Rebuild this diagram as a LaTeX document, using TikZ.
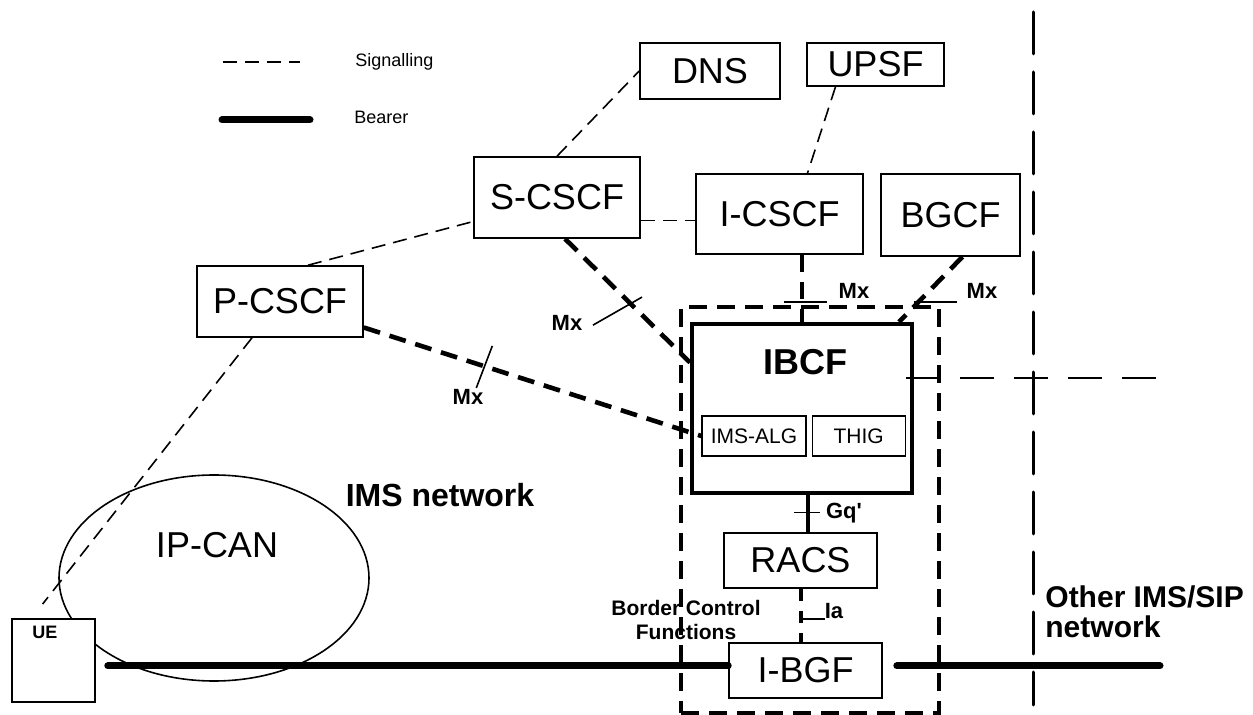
\documentclass[tikz,border=0pt]{standalone}
\usepackage{fontspec}
\setmainfont{Liberation Sans}[Ligatures=TeXOff]
\usetikzlibrary{positioning,shapes.geometric}
\tikzset{box/.style={draw,line width=0.8pt,inner sep=0pt,fill=white,font=\fontsize{18}{20}\selectfont},sub/.style={draw,line width=0.6pt,inner sep=0pt,minimum height=20pt,font=\fontsize{10.5}{12}\selectfont},sig/.style={line width=0.8pt,dash pattern=on 7pt off 4pt},mx/.style={line width=2.3pt,dash pattern=on 8.5pt off 5pt},bearer/.style={line width=3.5pt,line cap=round},tick/.style={line width=0.8pt},lbl/.style={font=\bfseries\fontsize{11}{12}\selectfont,inner sep=0pt},border/.style={draw,line width=2pt,dash pattern=on 9pt off 5pt},divider/.style={line width=1.5pt,line cap=round,dash pattern=on 21pt off 9pt},hline/.style={line width=1pt,dash pattern=on 17pt off 10pt},legend/.style={font=\fontsize{9}{10}\selectfont,anchor=west,inner sep=0pt}}

\begin{document}
\begin{tikzpicture}[x=0.5pt,y=-0.5pt]
\useasboundingbox (0,0) rectangle (1253,715);
% legend
\node[legend] (sigtxt) at (355,62) {Signalling};
\node[legend] (beartxt) at (354,117) {Bearer};
\draw[sig] ([xshift=-66pt]sigtxt.west) -- ([xshift=-27.5pt]sigtxt.west);
\draw[bearer] ([xshift=-66pt,yshift=-1.5pt]beartxt.west) -- ([xshift=-22pt,yshift=-1.5pt]beartxt.west);
% access side
\node[draw,ellipse,line width=0.8pt,inner sep=0pt,minimum width=155pt,minimum height=103pt] (ipcan) at (214,578) {};
\node[font=\fontsize{18}{20}\selectfont] (ipcantxt) at (217,545) {IP-CAN};
\node[draw,line width=0.8pt,fill=white,minimum size=41.5pt,inner sep=0pt] (ue) at (53.5,660.5) {};
\node[font=\bfseries\fontsize{9}{10}\selectfont] (uetxt) at (45,632) {UE};
\node[font=\bfseries\fontsize{16}{16}\selectfont] (imsnet) at (440,495) {IMS network};
% control nodes
\node[box,minimum width=70pt,minimum height=28pt] (dns) at (710,71) {DNS};
\node[box,minimum width=68.5pt,minimum height=21.5pt] (upsf) at (875.5,64.5) {UPSF};
\node[box,minimum width=83pt,minimum height=40.5pt] (scscf) at (557,197.5) {S-CSCF};
\node[box,minimum width=83.5pt,minimum height=40pt] (icscf) at (779.5,214) {I-CSCF};
\node[box,minimum width=69.5pt,minimum height=41pt] (bgcf) at (950.5,215) {BGCF};
\node[box,minimum width=83pt,minimum height=35.5pt] (pcscf) at (280,301.5) {P-CSCF};
% border control functions
\node[border,minimum width=129pt,minimum height=203pt] (bcf) at (810,510) {};
\node[draw,line width=2pt,minimum width=110pt,minimum height=84.5pt] (ibcf) at (802,408.5) {};
\node[font=\bfseries\fontsize{18}{20}\selectfont] (ibcftxt) at (805,362) {IBCF};
\node[sub,minimum width=52pt] (alg) at (754,436) {IMS-ALG};
\node[sub,minimum width=46.5pt,right=2.5pt of alg] (thig) {THIG};
\node[box,minimum width=76.5pt,minimum height=27.5pt] (racs) at (800.5,560.5) {RACS};
\node[box,minimum width=76.5pt,minimum height=27.5pt] (ibgf) at (805.5,670.5) {I-BGF};
\node[font=\bfseries\fontsize{10.5}{12}\selectfont,align=center,inner sep=0pt] (bcftxt) at (686,620) {Border Control\\Functions};
\node[font=\bfseries\fontsize{15}{15}\selectfont,align=left,anchor=west,inner sep=0pt] (other) at (1045,612) {Other IMS/SIP\\network};
% signalling
\draw[sig] (scscf.north) -- (dns.west); \draw[sig] ([xshift=-20pt]upsf.south) -- ([xshift=14pt]icscf.north);
\draw[sig] ([yshift=-11.5pt]scscf.east) -- ([yshift=-11.5pt]scscf.east -| icscf.west);
\draw[sig] ([xshift=14pt]pcscf.north) -- ([yshift=-12pt]scscf.west);
\draw[sig,shorten >=9pt] ([xshift=-14pt]pcscf.south) -- ([xshift=-11pt]ue.north);
% Mx and other reference points
\draw[mx] ([xshift=4pt]scscf.south) -- coordinate[pos=0.52] (ta) ([yshift=23pt]ibcf.west);
\draw[mx] ([yshift=-13pt]pcscf.east) -- coordinate[pos=0.354] (tb) (alg.west);
\draw[mx] (icscf.south -| ibcf.north) -- coordinate[pos=0.7] (tc) (ibcf.north);
\draw[mx] ([xshift=6pt]bgcf.south) -- coordinate[pos=0.69] (td) ([xshift=-7.5pt]ibcf.north east);
\draw[line width=2pt] ([xshift=3pt]ibcf.south) -- coordinate[pos=0.475] (tg) ([xshift=3pt]ibcf.south |- racs.north);
\draw[line width=2pt,dash pattern=on 6pt off 5pt] (racs.south) -- coordinate[pos=0.56] (ti) (racs.south |- ibgf.north);
\draw[tick] (ta) ++(-37,22) -- ++(49,-28); \draw[tick] (tb) ++(-7,22) -- ++(16,-42);
\draw[tick] (tc) ++(-18,0) -- ++(43,0); \draw[tick] (td) ++(-4.5,0) -- ++(43,0);
\draw[tick] (tg) ++(-14,0) -- ++(26,0); \draw[tick] (ti) -- ++(24,0);
\node[lbl] (mxa) at (567,323) {Mx}; \node[lbl] (mxb) at (468,397) {Mx};
\node[lbl] (mxc) at (854,291) {Mx}; \node[lbl] (mxd) at (982,291) {Mx};
\node[lbl] (gq) at (844,513) {Gq'}; \node[lbl] (ia) at (834,611) {Ia};
% bearer
\coordinate (bearend) at (1160,666);
\draw[bearer] ([xshift=6pt]ue.east |- bearend) -- (bearend -| ibgf.west);
\draw[bearer] ([xshift=7pt]bearend -| ibgf.east) -- (bearend);
% network border
\coordinate (vtop) at (1033,12); \coordinate (vbot) at (1033,705); \coordinate (hend) at (1165,378);
\draw[divider] (vtop) -- (vbot);
\draw[hline] ([xshift=-4pt]ibcf.east |- hend) -- (hend);
\end{tikzpicture}
\end{document}
